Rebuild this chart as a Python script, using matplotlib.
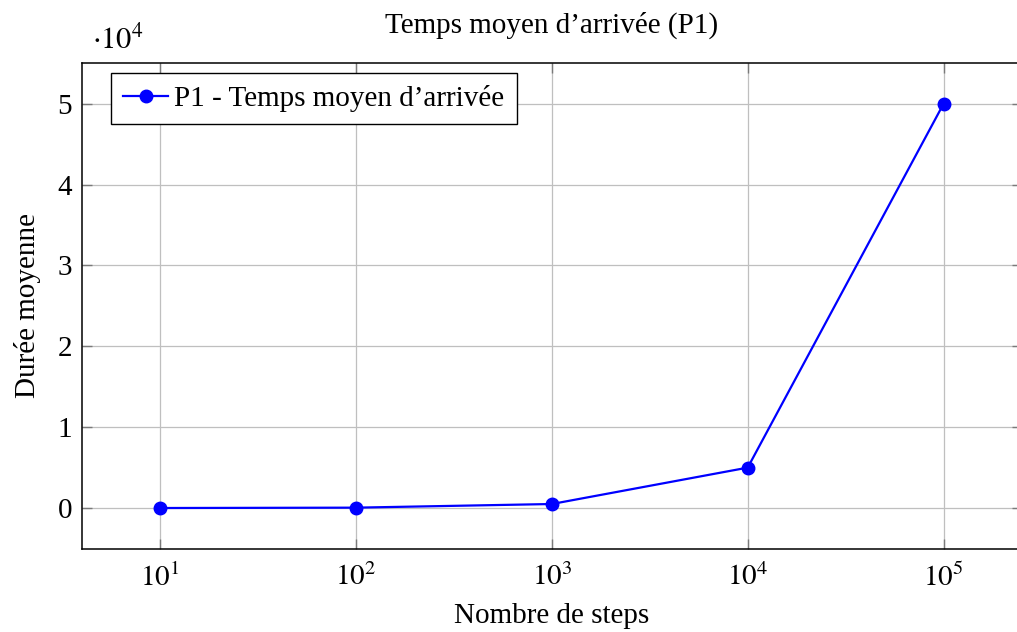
import math
import matplotlib
matplotlib.use("Agg")
import matplotlib.pyplot as plt
from matplotlib.ticker import FixedLocator, FuncFormatter, NullLocator

steps = [10, 100, 1000, 10000, 100000]
durees = [5, 50, 500, 5000, 50000]
series_label = "P1 - Temps moyen d\u2019arrivée"
title = "Temps moyen d\u2019arrivée (P1)"
xlabel = "Nombre de steps"
ylabel = "Durée moyenne"
yticks = [0, 10000, 20000, 30000, 40000, 50000]

plt.rcParams['font.family'] = ['Liberation Serif', 'DejaVu Serif']
plt.rcParams['mathtext.fontset'] = 'stix'

fig = plt.figure(figsize=(10.17, 6.32), dpi=100)
W, H = 1017, 632
left, right, top, bottom = 81.6, 1022, 63.2, 548.5
ax = fig.add_axes([left / W, 1 - bottom / H, (right - left) / W, (bottom - top) / H])

ax.plot(steps, durees, color=(0, 0, 1), lw=1.6, marker='o', ms=9, label=series_label, zorder=3)
ax.set_xscale('log')
ax.set_xlim(10 ** 0.6, 10 ** 5.4)
ax.set_ylim(-5000, 55000)

ax.xaxis.set_major_locator(FixedLocator(steps))
ax.xaxis.set_minor_locator(NullLocator())
ax.xaxis.set_major_formatter(FuncFormatter(lambda v, p: r'$10^{%d}$' % round(math.log10(v))))
ax.yaxis.set_major_locator(FixedLocator(yticks))
ax.yaxis.set_major_formatter(FuncFormatter(lambda v, p: '%d' % round(v / 1e4)))

ax.grid(True, color='#bfbfbf', lw=0.9)
ax.set_axisbelow(True)
ax.tick_params(axis='both', which='major', direction='in', length=7.5, width=1.0, color='#7a7a7a',
               top=True, right=True, labelsize=21, pad=7)
ax.tick_params(axis='x', pad=11)
for s in ax.spines.values():
    s.set_linewidth(1.1)
    s.set_color('black')

ax.set_title(title, fontsize=21, pad=22)
ax.set_xlabel(xlabel, fontsize=21, labelpad=8)
ax.set_ylabel(ylabel, fontsize=21, labelpad=12)

fig.text(92 / W, 1 - 40 / H, r'$\cdot 10^{4}$', fontsize=22, va='center', ha='left')

leg = ax.legend(loc='upper left',
                bbox_to_anchor=((111 - left) / (right - left), 1 - (73 - top) / (bottom - top)),
                fontsize=21, frameon=True, fancybox=False, framealpha=1, edgecolor='black',
                handlelength=1.55, handletextpad=0.2, borderpad=0.42, borderaxespad=0)
leg.get_frame().set_linewidth(1.0)

fig.savefig('out.png', dpi=100)
